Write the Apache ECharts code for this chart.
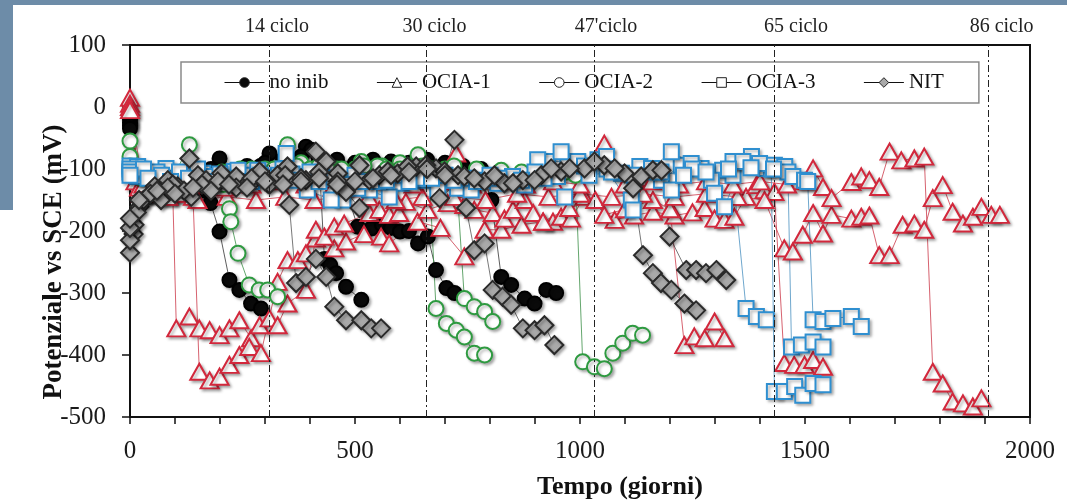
<!DOCTYPE html>
<html>
<head>
<meta charset="utf-8">
<script src="https://cdn.jsdelivr.net/npm/echarts@6/dist/echarts.min.js"></script>
<style>
  html, body { margin: 0; padding: 0; background: #fff; }
  #chart { width: 1067px; height: 500px; }
</style>
</head>
<body>
<div id="chart"></div>
<script>
// cycle markers (days)
const cycleDays = [309, 659, 1031, 1431, 1908]
const cycleLabels = ['14 ciclo', '30 ciclo', "47'ciclo", '65 ciclo', '86 ciclo']

// no inib - 4 specimens [day, mV]
const noInibA = [[0,-20],[10,-105],[30,-120],[55,-125],[85,-120],[115,-125],[145,-130],[165,-135],[179,-155],[199,-201],[221,-279],[243,-295],[269,-317],[291,-325]]
const noInibB = [[0,-25],[15,-110],[45,-118],[80,-115],[115,-110],[150,-112],[199,-83],[230,-105],[265,-110],[290,-95],[310,-75],[340,-90],[365,-88],[391,-64],[403,-69],[420,-82],[432,-245],[445,-255],[458,-268],[480,-290],[514,-311]]
const noInibC = [[0,-30],[20,-115],[50,-120],[90,-110],[130,-115],[170,-110],[210,-105],[250,-100],[290,-110],[330,-100],[370,-95],[410,-100],[450,-110],[480,-135],[506,-193],[536,-196],[560,-190],[580,-195],[600,-201],[620,-200],[640,-220],[662,-209],[680,-263],[703,-292],[721,-300]]
const noInibD = [[0,-35],[25,-110],[60,-115],[100,-105],[140,-110],[180,-100],[220,-105],[260,-95],[300,-90],[340,-85],[380,-80],[420,-85],[460,-85],[500,-90],[540,-85],[580,-88],[620,-90],[660,-85],[700,-90],[740,-95],[780,-100],[803,-150],[825,-274],[847,-287],[877,-309],[899,-317],[925,-295],[947,-300]]

// OCIA-1
const ocia1A = [[0,15],[12,-120],[35,-135],[60,-140],[80,-135],[95,-140],[103,-357],[132,-338],[154,-357],[177,-360],[199,-368],[221,-357],[243,-344],[269,-373],[288,-352],[310,-341],[328,-352],[350,-317],[391,-295],[413,-212],[454,-228],[480,-217],[520,-205],[558,-209],[576,-220],[639,-185],[690,-195],[743,-241],[788,-198],[825,-198],[870,-190],[918,-185],[940,-185],[958,-177],[980,-180],[1010,-145],[1077,-182],[1120,-175],[1162,-169],[1210,-175],[1250,-170],[1277,-163],[1299,-180],[1321,-182],[1343,-177],[1369,-145],[1392,-126],[1410,-134],[1432,-137],[1454,-413],[1476,-416],[1499,-416],[1518,-408],[1540,-419]]
const ocia1B = [[0,5],[20,-130],[50,-140],[85,-145],[115,-140],[140,-145],[154,-427],[177,-441],[199,-435],[221,-416],[243,-400],[265,-387],[291,-397],[328,-282],[350,-247],[373,-247],[391,-236],[413,-198],[432,-209],[454,-193],[476,-188],[532,-171],[554,-166],[576,-174],[598,-171],[613,-153],[661,-166],[706,-155],[743,-158],[765,-166],[806,-171],[832,-180],[851,-166],[877,-150],[896,-171],[918,-185],[976,-163],[1034,-150],[1054,-174],[1100,-165],[1162,-150],[1200,-165],[1232,-384],[1254,-370],[1277,-373],[1299,-346],[1321,-373]]
const ocia1C = [[0,0],[25,-140],[85,-145],[150,-150],[215,-145],[280,-150],[345,-145],[410,-150],[470,-145],[530,-145],[590,-150],[650,-145],[720,-145],[790,-150],[860,-140],[930,-145],[1000,-140],[1070,-145],[1140,-140],[1210,-145],[1280,-140],[1350,-145],[1410,-150],[1454,-228],[1473,-233],[1495,-206],[1518,-171],[1540,-204],[1559,-174],[1603,-180],[1625,-177],[1643,-175],[1665,-239],[1688,-239],[1717,-190],[1743,-188],[1765,-198],[1784,-147],[1806,-126],[1828,-169],[1851,-188],[1873,-177],[1892,-161],[1914,-174],[1933,-174]]
const ocia1D = [[0,-5],[30,-125],[90,-130],[150,-125],[210,-130],[270,-125],[330,-120],[390,-125],[450,-130],[510,-125],[570,-120],[630,-125],[690,-120],[725,-75],[760,-125],[820,-120],[880,-125],[940,-120],[1000,-125],[1054,-59],[1100,-125],[1160,-120],[1220,-125],[1280,-120],[1340,-125],[1400,-120],[1460,-125],[1500,-120],[1518,-99],[1540,-129],[1559,-147],[1603,-121],[1625,-112],[1643,-118],[1665,-129],[1688,-72],[1714,-86],[1743,-83],[1765,-80],[1784,-427],[1806,-446],[1828,-475],[1851,-478],[1873,-483],[1892,-470]]

// OCIA-2
const ocia2A = [[0,-55],[10,-100],[35,-115],[65,-120],[95,-115],[132,-61],[160,-110],[190,-115],[208,-125],[221,-164],[224,-185],[240,-236],[265,-287],[287,-295],[306,-295],[328,-306]]
const ocia2B = [[0,-80],[15,-105],[45,-115],[85,-110],[125,-115],[165,-110],[205,-105],[245,-100],[285,-105],[325,-100],[350,-61],[380,-90],[420,-95],[460,-100],[514,-88],[560,-95],[600,-90],[640,-77],[665,-110],[680,-325],[703,-349],[725,-360],[743,-371],[765,-397],[788,-400]]
const ocia2C = [[0,-95],[20,-110],[60,-118],[100,-112],[150,-118],[200,-110],[250,-105],[300,-100],[350,-95],[400,-100],[450,-105],[500,-100],[550,-95],[600,-100],[650,-95],[700,-100],[725,-110],[743,-309],[765,-322],[788,-330],[806,-346]]
const ocia2D = [[0,-100],[25,-115],[70,-120],[120,-115],[170,-110],[220,-105],[270,-100],[320,-100],[370,-95],[420,-95],[470,-100],[520,-95],[570,-100],[620,-95],[670,-100],[720,-95],[770,-100],[825,-102],[870,-105],[920,-100],[970,-105],[990,-110],[1006,-411],[1032,-419],[1054,-422],[1073,-397],[1095,-381],[1117,-365],[1139,-368]]

// OCIA-3
const ocia3A = [[0,-95],[17,-96],[50,-110],[80,-99],[120,-110],[162,-107],[200,-115],[232,-104],[284,-102],[330,-110],[347,-75],[373,-112],[425,-112],[473,-150],[532,-134],[602,-123],[654,-118],[728,-131],[788,-118],[877,-126],[928,-88],[973,-88],[1040,-85],[1092,-107],[1133,-96],[1181,-118],[1225,-94],[1269,-99],[1317,-102],[1340,-110],[1369,-325],[1392,-338],[1414,-343]]
const ocia3B = [[0,-100],[17,-112],[60,-105],[100,-115],[140,-110],[185,-112],[250,-110],[300,-115],[360,-108],[394,-134],[447,-150],[506,-131],[576,-145],[624,-118],[684,-134],[758,-134],[817,-123],[906,-85],[950,-112],[995,-88],[1059,-80],[1114,-150],[1159,-99],[1203,-72],[1247,-91],[1292,-118],[1340,-88],[1381,-80],[1414,-99],[1425,-100],[1432,-459],[1454,-459],[1477,-451],[1495,-465],[1518,-446],[1540,-448]]
const ocia3C = [[0,-105],[30,-100],[70,-110],[110,-105],[150,-100],[200,-108],[240,-102],[290,-110],[340,-100],[400,-105],[450,-115],[500,-110],[550,-120],[600,-110],[650,-115],[700,-110],[750,-115],[800,-110],[850,-112],[900,-105],[958,-72],[1010,-95],[1060,-100],[1118,-166],[1170,-105],[1203,-134],[1250,-100],[1299,-139],[1321,-161],[1362,-88],[1399,-91],[1432,-94],[1455,-96],[1462,-105],[1470,-387],[1492,-384],[1518,-379],[1540,-387]]
const ocia3D = [[0,-110],[40,-115],[90,-120],[130,-115],[180,-120],[220,-115],[270,-120],[320,-115],[370,-118],[420,-120],[470,-125],[520,-120],[570,-118],[620,-120],[670,-115],[720,-118],[770,-120],[820,-115],[870,-118],[920,-115],[966,-145],[1020,-110],[1070,-105],[1120,-110],[1180,-105],[1230,-110],[1280,-105],[1330,-100],[1380,-98],[1430,-100],[1473,-112],[1499,-118],[1506,-120],[1518,-343],[1540,-346],[1562,-341],[1603,-338],[1625,-354]]

// NIT
const nitA = [[0,-235],[8,-205],[21,-161],[39,-145],[55,-128],[84,-118],[106,-128],[132,-83],[151,-110],[188,-128],[218,-118],[251,-123],[288,-104],[328,-110],[354,-158],[369,-284],[391,-274],[413,-245],[436,-274],[454,-322],[480,-344],[514,-344],[536,-357],[558,-357]]
const nitB = [[0,-215],[10,-190],[30,-150],[69,-150],[95,-125],[136,-145],[169,-118],[203,-107],[236,-112],[265,-126],[306,-123],[350,-96],[391,-118],[413,-72],[436,-88],[462,-107],[480,-137],[510,-94],[554,-110],[595,-107],[636,-96],[680,-99],[699,-104],[721,-53],[729,-110],[747,-163],[765,-231],[788,-220],[806,-295],[828,-306],[847,-319],[873,-357],[899,-360],[921,-352],[943,-384]]
const nitC = [[0,-195],[15,-170],[45,-140],[84,-130],[120,-135],[160,-125],[195,-120],[236,-130],[270,-115],[310,-125],[345,-110],[380,-115],[420,-105],[462,-120],[510,-163],[532,-118],[573,-104],[617,-96],[658,-94],[688,-147],[743,-112],[788,-120],[832,-123],[873,-118],[914,-110],[958,-104],[1010,-99],[1054,-94],[1099,-107],[1118,-131],[1140,-239],[1162,-268],[1180,-284],[1203,-295],[1232,-317],[1258,-328]]
const nitD = [[0,-180],[20,-150],[60,-135],[100,-140],[140,-130],[180,-135],[220,-125],[260,-130],[300,-120],[340,-125],[380,-120],[420,-115],[460,-125],[500,-120],[540,-115],[580,-110],[620,-105],[660,-100],[700,-110],[765,-115],[810,-110],[851,-123],[899,-118],[936,-99],[977,-99],[1032,-88],[1077,-99],[1136,-112],[1162,-102],[1181,-102],[1199,-209],[1236,-263],[1258,-263],[1280,-268],[1303,-263],[1325,-279]]

const serif = '"Liberation Serif", "DejaVu Serif", serif'
// horizontal nudge of each cycle label (left padding)
const cycleLabelPad = [16, 16, 24, 44, 26]

const groups = [
    {name: 'no inib', data: [noInibA, noInibB, noInibC, noInibD], symbol: 'circle', size: 14, fill: '#0a0a0a', border: '#000', line: '#333'},
    {name: 'OCIA-1', data: [ocia1A, ocia1B, ocia1C, ocia1D], symbol: 'triangle', size: [18, 16], fill: '#fff', border: '#d2283c', line: '#cc3a4a'},
    {name: 'OCIA-2', data: [ocia2A, ocia2B, ocia2C, ocia2D], symbol: 'circle', size: 15, fill: '#fff', border: '#2e9a40', line: '#3c8f48'},
    {name: 'OCIA-3', data: [ocia3A, ocia3B, ocia3C, ocia3D], symbol: 'rect', size: 15, fill: '#fff', border: '#2f8fd0', line: '#4a90c0'},
    {name: 'NIT', data: [nitA, nitB, nitC, nitD], symbol: 'diamond', size: 18, fill: '#a9a9a9', border: '#2a2a2a', line: '#555'}
]

const series = []
groups.forEach(g => {
    g.data.forEach(spec => {
        series.push({
            name: g.name,
            type: 'line',
            data: spec,
            symbol: g.symbol,
            symbolSize: g.size,
            showAllSymbol: true,
            lineStyle: {color: g.line, width: 0.8},
            itemStyle: {
                color: g.fill,
                borderColor: g.border,
                borderWidth: 2,
                shadowColor: 'rgba(0,0,0,0.3)',
                shadowBlur: 3,
                shadowOffsetX: 2,
                shadowOffsetY: 2
            },
            emphasis: {disabled: true}
        })
    })
})

// cycle lines on the first series
series[0].markLine = {
    silent: true,
    symbol: ['none', 'none'],
    lineStyle: {color: '#222', width: 1, type: [7, 3, 2, 3]},
    label: {
        show: true,
        position: 'end',
        distance: 8,
        fontFamily: serif,
        fontSize: 20,
        color: '#222'
    },
    data: cycleDays.map((d, i) => ({
        xAxis: d,
        label: {formatter: cycleLabels[i], padding: [0, 0, 0, cycleLabelPad[i]]}
    }))
}

const legendData = groups.map(g => ({
    name: g.name,
    itemStyle: {color: g.fill, borderColor: '#222', borderWidth: 1},
    lineStyle: {color: '#111', width: 1}
}))

const myChart = echarts.init(document.getElementById('chart'))

const option = {
    animation: false,
    backgroundColor: '#fff',
    grid: {
        left: 130,
        right: 37,
        top: 45,
        bottom: 83,
        show: true,
        borderColor: '#111',
        borderWidth: 2
    },
    legend: {
        data: legendData,
        left: 181,
        top: 62,
        padding: [10, 35, 10, 43],
        itemWidth: 40,
        itemHeight: 12,
        itemGap: 48,
        borderColor: '#8a8a8a',
        borderWidth: 1.5,
        backgroundColor: '#fff',
        selectedMode: false,
        textStyle: {fontFamily: serif, fontSize: 21, color: '#111'},
        itemStyle: {shadowBlur: 0, shadowOffsetX: 0, shadowOffsetY: 0, shadowColor: 'transparent'}
    },
    xAxis: {
        type: 'value',
        min: 0,
        max: 2000,
        interval: 500,
        splitLine: {show: false},
        axisLine: {onZero: false, lineStyle: {color: '#111', width: 2}},
        axisTick: {show: true, inside: false, length: 7, lineStyle: {color: '#111', width: 1.5}},
        minorTick: {show: true, splitNumber: 5, length: 7, lineStyle: {color: '#111', width: 1.5}},
        axisLabel: {margin: 22, fontFamily: serif, fontSize: 25, color: '#1a1a1a', formatter: v => String(v)}
    },
    yAxis: {
        type: 'value',
        min: -500,
        max: 100,
        interval: 100,
        splitLine: {show: false},
        axisLine: {onZero: false, lineStyle: {color: '#111', width: 2}},
        axisTick: {show: true, inside: false, length: 8, lineStyle: {color: '#111', width: 1.5}},
        axisLabel: {margin: 24, fontFamily: serif, fontSize: 25, color: '#1a1a1a', formatter: v => String(v)}
    },
    graphic: [
        {type: 'rect', left: 0, top: 0, shape: {width: 1067, height: 5}, style: {fill: '#6d8ca8'}, silent: true},
        {type: 'rect', left: 0, top: 0, shape: {width: 13, height: 210}, style: {fill: '#6d8ca8'}, silent: true},
        {
            type: 'text',
            x: 54,
            y: 262,
            rotation: Math.PI / 2,
            silent: true,
            style: {
                text: 'Potenziale vs SCE (mV)',
                font: 'bold 27px ' + serif,
                fill: '#111',
                align: 'center',
                verticalAlign: 'middle'
            }
        },
        {
            type: 'text',
            x: 620,
            y: 487,
            silent: true,
            style: {
                text: 'Tempo (giorni)',
                font: 'bold 26px ' + serif,
                fill: '#111',
                align: 'center',
                verticalAlign: 'middle'
            }
        }
    ],
    series
}

myChart.setOption(option)
</script>
</body>
</html>
